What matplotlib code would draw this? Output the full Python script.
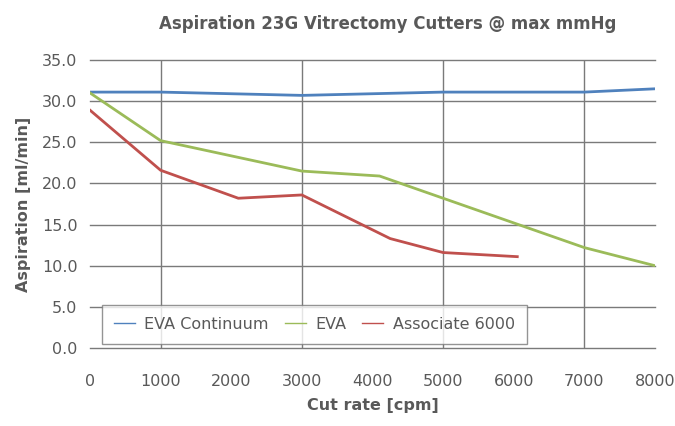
import matplotlib
matplotlib.use("Agg")
import matplotlib.pyplot as plt
from matplotlib.ticker import FormatStrFormatter

# Data
cont_x = [0, 1000, 2000, 3000, 4000, 5000, 6000, 7000, 8000]
cont_y = [31.1, 31.1, 30.9, 30.7, 30.9, 31.1, 31.1, 31.1, 31.5]
eva_x = [0, 1000, 3000, 4100, 7000, 8000]
eva_y = [31.0, 25.2, 21.5, 20.9, 12.2, 10.0]
assoc_x = [0, 1000, 2100, 3000, 4250, 5000, 6050]
assoc_y = [28.9, 21.6, 18.2, 18.6, 13.3, 11.6, 11.1]
x_ticks = [0, 1000, 2000, 3000, 4000, 5000, 6000, 7000, 8000]
y_ticks = [0, 5, 10, 15, 20, 25, 30, 35]
v_grid = [1000, 3000, 5000, 7000]

txt = "#595959"
fig = plt.figure(figsize=(6.75, 4.26), dpi=100)
ax = fig.add_axes([90/675, 1-348/426, (655-90)/675, (348-60)/426])

for y in y_ticks:
    ax.axhline(y, color="#7a7a7a", lw=1.0, zorder=1, clip_on=False)
for x in v_grid:
    ax.axvline(x, color="#7a7a7a", lw=1.0, zorder=1)

ax.plot(cont_x, cont_y, color="#4F81BD", lw=2.0, label="EVA Continuum", zorder=3)
ax.plot(eva_x, eva_y, color="#9BBB59", lw=2.0, label="EVA", zorder=3)
ax.plot(assoc_x, assoc_y, color="#C0504D", lw=2.0, label="Associate 6000", zorder=3)

ax.set_xlim(0, 8000)
ax.set_ylim(0, 35)
ax.set_xticks(x_ticks)
ax.set_yticks(y_ticks)
ax.yaxis.set_major_formatter(FormatStrFormatter("%.1f"))
ax.tick_params(axis="both", length=0, labelsize=11.5, colors=txt)
ax.tick_params(axis="x", pad=19)
ax.tick_params(axis="y", pad=9)
for s in ax.spines.values():
    s.set_visible(False)

ax.set_title("Aspiration 23G Vitrectomy Cutters @ max mmHg", fontsize=12,
             fontweight="bold", color=txt, pad=22, x=0.527)
ax.set_xlabel("Cut rate [cpm]", fontsize=11.5, fontweight="bold", color=txt, labelpad=6)
ax.set_ylabel("Aspiration [ml/min]", fontsize=11.5, fontweight="bold", color=txt, labelpad=8)

leg = ax.legend(loc="lower left", bbox_to_anchor=(12/565, 4/288), ncol=3,
                frameon=True, fancybox=False, fontsize=11.5, handlelength=1.3,
                columnspacing=1.0, handletextpad=0.6, borderpad=0.75,
                borderaxespad=0)
leg.get_frame().set_edgecolor("#7a7a7a")
leg.get_frame().set_linewidth(1.0)
for l in leg.get_lines():
    l.set_linewidth(1.0)
for t in leg.get_texts():
    t.set_color(txt)
leg.set_zorder(5)

fig.savefig("out.png", dpi=100)
